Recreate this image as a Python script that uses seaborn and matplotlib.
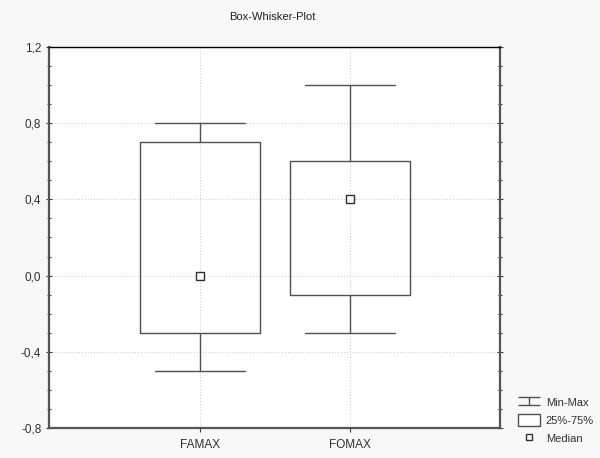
import numpy as np
import pandas as pd
import matplotlib
matplotlib.use("Agg")
import matplotlib.pyplot as plt
from matplotlib.lines import Line2D
from matplotlib.patches import Patch
from matplotlib.path import Path
from matplotlib.ticker import MultipleLocator, FuncFormatter
import seaborn as sns

categories = ["FAMAX", "FOMAX"]
mins = [-0.5, -0.3]
q1s = [-0.3, -0.1]
medians = [0.0, 0.4]
q3s = [0.7, 0.6]
maxs = [0.8, 1.0]
title = "Box-Whisker-Plot"
legend_labels = ["Min-Max", "25%-75%", "Median"]

sns.set_style("white")
plt.rcParams["font.family"] = ["Liberation Sans", "DejaVu Sans"]

rows = []
for c, a, b, m, d, e in zip(categories, mins, q1s, medians, q3s, maxs):
    for v in (a, b, m, d, e):
        rows.append({"var": c, "value": v})
df = pd.DataFrame(rows)

line_c = "#505050"
fig = plt.figure(figsize=(6, 4.58), dpi=100, facecolor="#f8f8f8")
ax = fig.add_axes([49 / 600, 1 - 428 / 458, 451 / 600, 381 / 458])
ax.set_facecolor("white")

sns.boxplot(data=df, x="var", y="value", order=categories, whis=(0, 100),
            width=0.8, fill=False, color=line_c, linecolor=line_c, linewidth=1.0,
            medianprops={"visible": False}, showfliers=False,
            capwidths=0.6, ax=ax)
sns.scatterplot(x=categories, y=medians, marker="s", s=26, color="white",
                edgecolor="#303030", linewidth=1.0, ax=ax, zorder=5)

ax.set_xlim(-1.007, 2.0)
ax.set_ylim(-0.8, 1.2)
ax.yaxis.set_major_locator(MultipleLocator(0.4))
ax.yaxis.set_minor_locator(MultipleLocator(0.1))
ax.yaxis.set_major_formatter(FuncFormatter(
    lambda v, p: ("%.1f" % (0.0 if abs(v) < 1e-9 else v)).replace(".", ",")))
ax.set_xlabel("")
ax.set_ylabel("")
ax.grid(True, which="major", color="#d0d0d0", linestyle=":", linewidth=0.8)
ax.set_axisbelow(True)
ax.tick_params(axis="y", which="both", left=True, right=True, direction="inout",
               labelsize=8.5, colors="#404040", labelcolor="#303030")
ax.tick_params(axis="y", which="major", length=5, width=0.8, pad=3)
ax.tick_params(axis="y", which="minor", length=3, width=0.8)
ax.tick_params(axis="x", bottom=True, top=False, direction="out", length=3,
               width=0.8, colors="#404040", labelsize=8.5, labelcolor="#303030", pad=5)
for s in ["left", "right", "bottom"]:
    ax.spines[s].set_color("#555555")
    ax.spines[s].set_linewidth(1.6)
ax.spines["top"].set_color("#000000")
ax.spines["top"].set_linewidth(1.0)

fig.text(272 / 600, 1 - 17 / 458, title, ha="center", va="center", fontsize=8,
         color="#202020")

ibeam = Path([(-1, 0.4), (1, 0.4), (0, 0.4), (0, -0.4), (-1, -0.4), (1, -0.4)],
             [Path.MOVETO, Path.LINETO, Path.MOVETO, Path.LINETO, Path.MOVETO, Path.LINETO])
handles = [
    Line2D([], [], linestyle="none", marker=ibeam, markersize=16,
           markeredgecolor=line_c, markerfacecolor="none", markeredgewidth=1.0),
    Patch(facecolor="white", edgecolor=line_c, linewidth=1.0),
    Line2D([], [], linestyle="none", marker="s", markersize=5,
           markerfacecolor="white", markeredgecolor="#303030", markeredgewidth=1.0),
]
fig.legend(handles, legend_labels, loc="lower left",
           bbox_to_anchor=(518 / 600, 1 - 444 / 458), frameon=False, fontsize=8,
           handlelength=2.0, handleheight=1.2, handletextpad=0.5, labelspacing=0.6,
           borderaxespad=0, borderpad=0, labelcolor="#303030")

fig.savefig("out.png", dpi=100, facecolor=fig.get_facecolor())
